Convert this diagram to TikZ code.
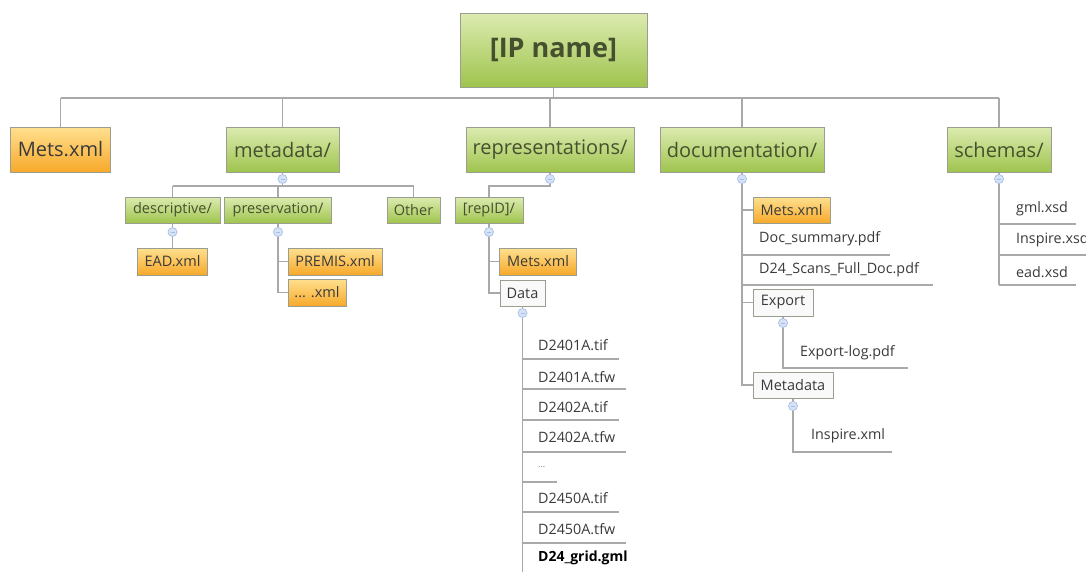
\documentclass[tikz,border=0pt]{standalone}
\usepackage{fontspec}
\setmainfont{Open Sans}
\usetikzlibrary{backgrounds}
\definecolor{gtop}{HTML}{DCEBB0}
\definecolor{gbot}{HTML}{9FC44E}
\definecolor{otop}{HTML}{FFE08F}
\definecolor{obot}{HTML}{F7A92A}
\definecolor{boxb}{HTML}{9A9E90}
\definecolor{txtg}{HTML}{46502F}
\definecolor{txtd}{HTML}{3A3A3A}
\definecolor{lineg}{HTML}{A9A9A9}
\definecolor{knobf}{HTML}{D6E3F6}
\definecolor{knobb}{HTML}{A6BEE4}
\definecolor{wfill}{HTML}{F9F9F9}
\begin{document}
\begin{tikzpicture}[x=1pt,y=-1pt,
  box/.style={rectangle, draw=boxb, line width=0.8pt, inner sep=0pt, text=txtg},
  gbox/.style={box, top color=gtop, bottom color=gbot},
  obox/.style={box, top color=otop, bottom color=obot, text=txtd},
  wbox/.style={box, fill=wfill, text=txtd},
  lone/.style={font=\fontsize{20}{23}\selectfont},
  ltwo/.style={font=\fontsize{14.5}{17}\selectfont},
  file/.style={anchor=west, inner sep=0pt, text=txtd, font=\fontsize{14.3}{16}\selectfont},
  conn/.style={draw=lineg, line width=1.4pt},
  knob/.style={circle, draw=knobb, fill=knobf, minimum size=9pt, inner sep=0pt, line width=0.7pt,
    path picture={\draw[knobb, line width=0.6pt] ([xshift=-2pt]path picture bounding box.center) -- ([xshift=2pt]path picture bounding box.center);}}
]
\clip (0,0) rectangle (1086,571);

% root and level 1
\node[gbox, minimum width=187pt, minimum height=74pt, font=\bfseries\fontsize{27}{31}\selectfont] (root) at (553.5,50) {[IP name]};
\node[obox, lone, minimum width=100pt, minimum height=45pt] (mets) at (60.5,149.5) {Mets.xml};
\node[gbox, lone, minimum width=113pt, minimum height=45pt] (meta) at (282.5,149.5) {metadata/};
\node[gbox, lone, minimum width=168pt, minimum height=45pt] (repr) at (550,149.5) {representations/};
\node[gbox, lone, minimum width=164pt, minimum height=45pt] (doc) at (742,149.5) {documentation/};
\node[gbox, lone, minimum width=104pt, minimum height=45pt] (sch) at (999,149.5) {schemas/};

% level 2
\node[gbox, ltwo, minimum width=95pt, minimum height=26pt] (desc) at (172.5,210) {descriptive/};
\node[gbox, ltwo, minimum width=107pt, minimum height=26pt] (pres) at (278,210) {preservation/};
\node[gbox, ltwo, minimum width=53pt, minimum height=26pt] (other) at (413.5,210) {Other};
\node[obox, ltwo, minimum width=70pt, minimum height=27pt] (ead) at (172.5,261.5) {EAD.xml};
\node[obox, ltwo, minimum width=94pt, minimum height=27pt] (premis) at (335,261.5) {PREMIS.xml};
\node[obox, ltwo, minimum width=58pt, minimum height=27pt] (dotxml) at (317,292.5) {... .xml};
\node[gbox, ltwo, minimum width=68pt, minimum height=26pt] (repid) at (489,210) {[repID]/};
\node[obox, ltwo, minimum width=77pt, minimum height=27pt] (metsrep) at (538,261.5) {Mets.xml};
\node[wbox, ltwo, minimum width=45pt, minimum height=26pt] (data) at (522.5,293) {Data};
\node[obox, ltwo, minimum width=77pt, minimum height=26pt] (metsdoc) at (791.5,210) {Mets.xml};
\node[wbox, ltwo, minimum width=60pt, minimum height=27pt] (export) at (783,302.5) {Export};
\node[wbox, ltwo, minimum width=80pt, minimum height=26pt] (metadoc) at (793,385) {Metadata};

% knobs
\node[knob] (kmeta) at (282.5,179) {};
\node[knob] (krepr) at (550,179) {};
\node[knob] (kdoc) at (742,179) {};
\node[knob] (ksch) at (999,179) {};
\node[knob] (kdesc) at (172.5,232) {};
\node[knob] (kpres) at (278,232) {};
\node[knob] (krep) at (489,232) {};
\node[knob] (kdata) at (522.5,313) {};
\node[knob] (kexp) at (783,323) {};
\node[knob] (kmd) at (793,406) {};

% file texts
\node[file] (f1) at (538,345) {D2401A.tif};
\node[file] (f2) at (538,377) {D2401A.tfw};
\node[file] (f3) at (538,407) {D2402A.tif};
\node[file] (f4) at (538,437) {D2402A.tfw};
\node[file, text=gray] (f5) at (538,467) {\fontsize{9}{10}\selectfont ...};
\node[file] (f6) at (538,498) {D2450A.tif};
\node[file] (f7) at (538,529) {D2450A.tfw};
\node[file, font=\bfseries\fontsize{14}{16}\selectfont, text=black] (f8) at (538,558) {D24\_grid.gml};
\node[file] (d1) at (759,239) {Doc\_summary.pdf};
\node[file] (d2) at (759,270) {D24\_Scans\_Full\_Doc.pdf};
\node[file] (d3) at (800,353) {Export-log.pdf};
\node[file] (d4) at (811,436) {Inspire.xml};
\node[file] (s1) at (1016,209) {gml.xsd};
\node[file] (s2) at (1016,240) {Inspire.xsd};
\node[file] (s3) at (1016,272) {ead.xsd};

% underline end points
\coordinate (u1) at (619,359);
\coordinate (u2) at (626,389);
\coordinate (u3) at (619,420);
\coordinate (u4) at (626,452);
\coordinate (u5) at (557,482);
\coordinate (u6) at (619,512);
\coordinate (u7) at (626,543);
\coordinate (u8) at (638,574);
\coordinate (ud1) at (890,255);
\coordinate (ud2) at (933,285);
\coordinate (ud3) at (908,368);
\coordinate (ud4) at (892,452);
\coordinate (us1) at (1076,224);
\coordinate (us2) at (1090,255);
\coordinate (us3) at (1076,285);
\coordinate (bus) at (553.5,98);
\coordinate (mbus) at (282.5,186);

\begin{scope}[on background layer]
\fill[white] (0,0) rectangle (1086,571);
% root bus
\draw[conn] (root.south) -- (bus);
\draw[conn] (mets.north |- bus) -- (sch.north |- bus);
\foreach \n in {mets,meta,repr,doc,sch} \draw[conn] (\n.north) -- (\n.north |- bus);
% metadata
\draw[conn] (meta.south) -- (kmeta.center) -- (mbus);
\draw[conn] (desc.north |- mbus) -- (other.north |- mbus);
\foreach \n in {desc,pres,other} \draw[conn] (\n.north) -- (\n.north |- mbus);
\draw[conn] (desc.south) -- (kdesc.center) -- (ead.north);
\draw[conn] (pres.south) -- (kpres.center) |- (dotxml.west);
\draw[conn] (kpres.center |- premis.west) -- (premis.west);
% representations
\draw[conn] (repr.south) -- (krepr.center) -- ++(0,7) -| (repid.north);
\draw[conn] (repid.south) -- (krep.center) |- (data.west);
\draw[conn] (krep.center |- metsrep.west) -- (metsrep.west);
\draw[conn] (data.south) -- (kdata.center) -- (kdata.center |- u8);
\foreach \u in {u1,u2,u3,u4,u5,u6,u7,u8} \draw[conn] (kdata.center |- \u) -- (\u);
% documentation
\draw[conn] (doc.south) -- (kdoc.center) |- (metadoc.west);
\draw[conn] (kdoc.center |- metsdoc.west) -- (metsdoc.west);
\draw[conn] (kdoc.center |- export.west) -- (export.west);
\draw[conn] (kdoc.center |- ud1) -- (ud1);
\draw[conn] (kdoc.center |- ud2) -- (ud2);
\draw[conn] (export.south) -- (kexp.center) |- (ud3);
\draw[conn] (metadoc.south) -- (kmd.center) |- (ud4);
% schemas
\draw[conn] (sch.south) -- (ksch.center) -- (ksch.center |- us3);
\foreach \u in {us1,us2,us3} \draw[conn] (ksch.center |- \u) -- (\u);
\end{scope}
\end{tikzpicture}
\end{document}
